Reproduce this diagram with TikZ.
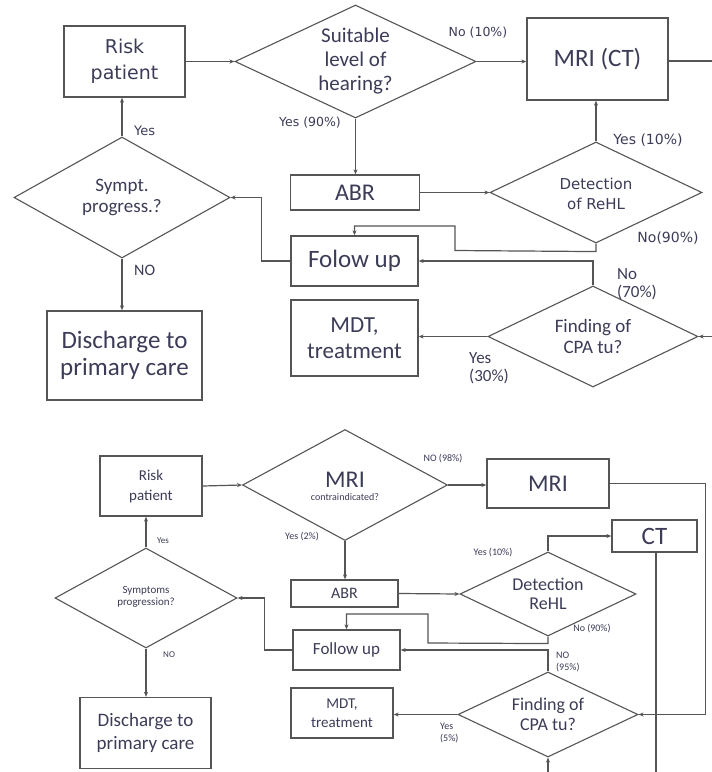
\documentclass[tikz,border=0pt]{standalone}
\usepackage{fontspec}
\setmainfont{Carlito}
\newfontfamily\dv{DejaVu Sans}
\usetikzlibrary{shapes.geometric,arrows.meta}
\definecolor{txt}{HTML}{3C3C58}
\definecolor{ln}{HTML}{555555}
\tikzset{
  box/.style={draw=ln,line width=1.3pt,rectangle,inner sep=0pt,align=center,text=txt},
  dmd/.style={draw=ln,line width=1.1pt,diamond,inner sep=0pt},
  dtext/.style={align=center,text=txt,inner sep=0pt},
  conn/.style={draw=ln,line width=1.2pt},
  arr/.style={conn,-{Stealth[length=5pt,width=4pt]}},
  lab/.style={text=txt,inner sep=0pt,align=left},
}
\newcommand{\fs}[2]{\fontsize{#1}{#2}\selectfont}
\begin{document}
\begin{tikzpicture}[x=1pt,y=-1pt]
\fill[white] (0,0) rectangle (712,772);
\useasboundingbox (0,0) rectangle (712,772);

% ---------- top diagram ----------
\node[box,minimum width=121pt,minimum height=71pt,font=\dv\fs{19}{26}] (rp1) at (124.5,61.5) {Risk\\patient};
\node[dmd,minimum width=241pt,minimum height=113pt] (suit) at (355.5,61.5) {};
\node[dtext,font=\fs{21}{24}] (suitT) at (355.5,61.5) {Suitable\\level of\\hearing?};
\node[box,minimum width=141pt,minimum height=82pt,font=\fs{25}{28}] (mri1) at (597.5,59) {MRI (CT)};
\node[box,minimum width=129pt,minimum height=35pt,font=\fs{24}{26}] (abr1) at (355,192.5) {ABR};
\node[dmd,minimum width=212pt,minimum height=101pt] (det1) at (596,192.5) {};
\node[dtext,font=\dv\fs{15}{20}] (det1T) at (596,194) {Detection\\of ReHL};
\node[box,minimum width=127pt,minimum height=50pt,font=\fs{25}{28}] (fol1) at (354.5,261) {Folow up};
\node[box,minimum width=127pt,minimum height=76pt,font=\fs{23}{26}] (mdt1) at (354.5,338) {MDT,\\treatment};
\node[dmd,minimum width=210pt,minimum height=101pt] (cpa1) at (593,336.5) {};
\node[dtext,font=\fs{19}{21}] (cpa1T) at (593,336) {Finding of\\CPA tu?};
\node[dmd,minimum width=216pt,minimum height=121pt] (sym1) at (122,197.5) {};
\node[dtext,font=\fs{19}{21}] (sym1T) at (122,197) {Sympt.\\progress.?};
\node[box,minimum width=155pt,minimum height=89pt,font=\fs{25}{27}] (dis1) at (124.5,355.5) {Discharge to\\primary care};

\coordinate (offR1) at (712,61);
\coordinate (offR2) at (712,336.5);

\draw[arr] (rp1.east) -- (suit.west);
\draw[arr] (suit.east) -- (suit.east -| mri1.west);
\draw[conn] (mri1.east |- offR1) -- (offR1);
\draw[arr] (suit.south) -- (suit.south |- abr1.north);
\draw[arr] (abr1.east) -- (det1.west);
\draw[arr] (det1.north) -- (det1.north |- mri1.south);
\draw[arr] (det1.south) -- ++(0,8) -- (455,250.5) -- (455,226) -- (354.5,226) -- (fol1.north);
\draw[arr] (cpa1.north) |- (fol1.east);
\draw[arr] (cpa1.west) -- (cpa1.west -| mdt1.east);
\draw[arr] (offR2) -- (cpa1.east);
\draw[arr] (fol1.west) -- ++(-29,0) |- (sym1.east);
\draw[arr] (sym1.north) -- (sym1.north |- rp1.south);
\draw[arr] (sym1.south) -- (sym1.south |- dis1.north);

\node[lab,font=\dv\fs{12.5}{14}] (l1) at (478,33) {No (10\%)};
\node[lab,font=\dv\fs{12.5}{14}] (l2) at (310,123) {Yes (90\%)};
\node[lab,font=\dv\fs{14}{16}] (l3) at (648,140) {Yes (10\%)};
\node[lab,font=\dv\fs{14}{16}] (l4) at (668,238) {No(90\%)};
\node[lab,anchor=west,font=\fs{17}{18}] (l5) at (617,284) {No\\(70\%)};
\node[lab,anchor=west,font=\fs{17}{18}] (l6) at (469,368) {Yes\\(30\%)};
\node[lab,anchor=west,font=\dv\fs{13}{14}] (l7) at (134,131) {Yes};
\node[lab,anchor=west,font=\fs{16}{17}] (l8) at (134,270) {NO};

% ---------- bottom diagram ----------
\node[box,minimum width=102pt,minimum height=60pt,font=\fs{15}{20}] (rp2) at (151,486) {Risk\\patient};
\node[dmd,minimum width=205pt,minimum height=111pt] (mci) at (345,485) {};
\node[dtext,font=\fs{24}{26}] (mciT) at (345,480) {MRI};
\node[dtext,font=\fs{10}{11}] (mciT2) at (345,497) {contraindicated?};
\node[box,minimum width=122pt,minimum height=49pt,font=\fs{24}{26}] (mri2) at (548,483.5) {MRI};
\node[box,minimum width=85pt,minimum height=32pt,font=\fs{25}{27}] (ct) at (654.5,536) {CT};
\node[box,minimum width=107pt,minimum height=27pt,font=\fs{16}{18}] (abr2) at (344.5,593.5) {ABR};
\node[dmd,minimum width=176pt,minimum height=84pt] (det2) at (548,594) {};
\node[dtext,font=\fs{18}{19}] (det2T) at (548,594) {Detection\\ReHL};
\node[box,minimum width=107pt,minimum height=40pt,font=\fs{17}{19}] (fol2) at (346.5,650) {Follow up};
\node[dmd,minimum width=180pt,minimum height=85pt] (cpa2) at (548,714.5) {};
\node[dtext,font=\fs{18}{20}] (cpa2T) at (548,714) {Finding of\\CPA tu?};
\node[box,minimum width=102pt,minimum height=50pt,font=\fs{15}{19}] (mdt2) at (342,713) {MDT,\\treatment};
\node[dmd,minimum width=182pt,minimum height=100pt] (sym2) at (146,598) {};
\node[dtext,font=\fs{11}{12}] (sym2T) at (146,597) {Symptoms\\progression?};
\node[box,minimum width=131pt,minimum height=71pt,font=\fs{19}{23}] (dis2) at (145.5,733) {Discharge to\\primary care};

\coordinate (offB1) at (656,772);
\coordinate (offB2) at (548,772);

\draw[arr] (rp2.east) -- (mci.west);
\draw[arr] (mci.east) -- (mci.east -| mri2.west);
\draw[arr] (mri2.east) -- ++(96,0) |- (cpa2.east);
\draw[arr] (mci.south) -- (mci.south |- abr2.north);
\draw[arr] (abr2.east) -- (det2.west);
\draw[arr] (det2.north) |- (ct.west);
\draw[conn] (offB1 |- ct.south) -- (offB1);
\draw[arr] (det2.south) -- ++(0,7) -- (428,643) -- (428,614) -- (346.5,614) -- (fol2.north);
\draw[arr] (cpa2.north) |- (fol2.east);
\draw[arr] (cpa2.west) -- (cpa2.west -| mdt2.east);
\draw[arr] (offB2) -- (cpa2.south);
\draw[arr] (fol2.west) -- ++(-28,0) |- (sym2.east);
\draw[arr] (sym2.north) -- (sym2.north |- rp2.south);
\draw[arr] (sym2.south) -- (sym2.south |- dis2.north);

\node[lab,font=\fs{10}{11}] (m1) at (443,459) {NO (98\%)};
\node[lab,font=\fs{10}{11}] (m2) at (302,537) {Yes (2\%)};
\node[lab,font=\fs{10}{11}] (m3) at (493,553) {Yes (10\%)};
\node[lab,font=\fs{10}{11}] (m4) at (592,629) {No (90\%)};
\node[lab,anchor=west,font=\fs{10}{12}] (m5) at (556,662) {NO\\(95\%)};
\node[lab,anchor=west,font=\fs{10}{12}] (m6) at (440,733) {Yes\\(5\%)};
\node[lab,anchor=west,font=\fs{9}{10}] (m7) at (157,541) {Yes};
\node[lab,anchor=west,font=\fs{9}{10}] (m8) at (163,655) {NO};
\end{tikzpicture}
\end{document}
